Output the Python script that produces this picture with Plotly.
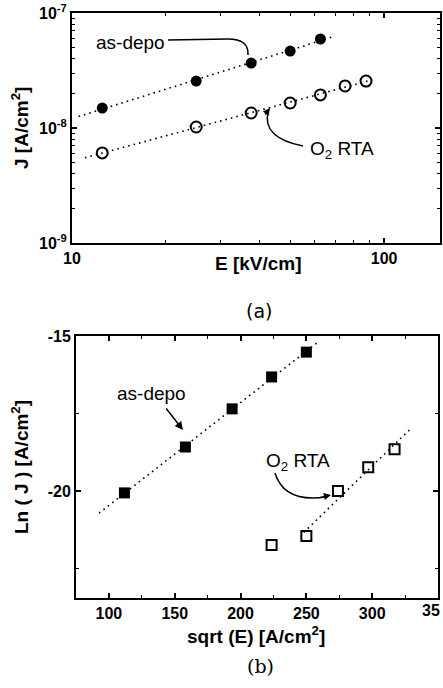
import numpy as np
import plotly.graph_objects as go
from plotly.subplots import make_subplots

# ---------------- data ----------------
# (a) J vs E (log-log)
E_asdepo = [12.5, 25, 37.5, 50, 62.5]
J_asdepo = [1.49e-8, 2.56e-8, 3.67e-8, 4.67e-8, 5.94e-8]
E_o2 = [12.5, 25, 37.5, 50, 62.5, 75, 87.5]
J_o2 = [6.07e-9, 1.02e-8, 1.35e-8, 1.65e-8, 1.94e-8, 2.32e-8, 2.56e-8]
fit_range_a_asdepo = [10.5, 68.7]
fit_range_a_o2 = [11.0, 90.0]

# (b) Ln(J) vs sqrt(E)
sq_asdepo = [111.8, 158.1, 193.6, 223.6, 250.0]
lnJ_asdepo = [-20.06, -18.58, -17.35, -16.32, -15.52]
sq_o2 = [223.6, 250.0, 274.0, 297.0, 317.0]
lnJ_o2 = [-21.74, -21.45, -20.0, -19.23, -18.65]
fit_range_b_asdepo = [92.5, 258.0]
fit_range_b_o2 = [248.0, 330.0]

top_ytickvals = [1e-9, 1e-8, 1e-7]
top_yticktext = ["10<sup>-9</sup>", "10<sup>-8</sup>", "10<sup>-7</sup>"]
top_xtickvals = [10, 100]
top_xticktext = ["10", "100"]
bot_xtickvals = [100, 150, 200, 250, 300, 350]
bot_xticktext = ["100", "150", "200", "250", "300", ""]
bot_edge_label = "35"   # the 350 label, cut at the image edge in the original
bot_ytickvals = [-20, -15]
bot_yticktext = ["-20", "-15"]

# ---------------- helpers ----------------
W, H = 443, 688
def PX(x):
    return x / W
def PY(y):
    return 1 - y / H

FONT = "Liberation Sans, Arial, sans-serif"
DOT = "1.6px,4px"

fig = make_subplots(rows=2, cols=1)

# fits
def loglog_fit(x, y, rng):
    lx, ly = np.log10(x), np.log10(y)
    k, b = np.polyfit(lx, ly, 1)
    xs = np.array(rng)
    return xs, 10 ** (k * np.log10(xs) + b)

def lin_fit(x, y, rng):
    k, b = np.polyfit(x, y, 1)
    xs = np.array(rng)
    return xs, k * xs + b

xa1, ya1 = loglog_fit(E_asdepo, J_asdepo, fit_range_a_asdepo)
xa2, ya2 = loglog_fit(E_o2, J_o2, fit_range_a_o2)
xb1, yb1 = lin_fit(sq_asdepo, lnJ_asdepo, fit_range_b_asdepo)
xb2, yb2 = lin_fit(sq_o2[1:], lnJ_o2[1:], fit_range_b_o2)

line_style = dict(color="black", width=1.6, dash=DOT)
fig.add_trace(go.Scatter(x=xa1, y=ya1, mode="lines", line=line_style, showlegend=False), 1, 1)
fig.add_trace(go.Scatter(x=xa2, y=ya2, mode="lines", line=line_style, showlegend=False), 1, 1)
fig.add_trace(go.Scatter(x=xb1, y=yb1, mode="lines", line=line_style, showlegend=False), 2, 1)
fig.add_trace(go.Scatter(x=xb2, y=yb2, mode="lines", line=line_style, showlegend=False), 2, 1)

fig.add_trace(go.Scatter(x=E_asdepo, y=J_asdepo, mode="markers",
                         marker=dict(symbol="circle", size=11, color="black"),
                         showlegend=False), 1, 1)
fig.add_trace(go.Scatter(x=E_o2, y=J_o2, mode="markers",
                         marker=dict(symbol="circle-open", size=11, color="black",
                                     line=dict(width=2, color="black")),
                         showlegend=False), 1, 1)
fig.add_trace(go.Scatter(x=sq_asdepo, y=lnJ_asdepo, mode="markers",
                         marker=dict(symbol="square", size=11, color="black"),
                         showlegend=False), 2, 1)
fig.add_trace(go.Scatter(x=sq_o2, y=lnJ_o2, mode="markers",
                         marker=dict(symbol="square-open", size=10, color="black",
                                     line=dict(width=2, color="black")),
                         showlegend=False), 2, 1)

tickfont = dict(family=FONT, size=16, color="black", weight="bold")
axis_common = dict(showline=True, linecolor="black", linewidth=2, mirror="ticks",
                   ticks="inside", ticklen=5, tickwidth=1.5, tickcolor="black",
                   showgrid=False, zeroline=False, tickfont=tickfont, automargin=False)

fig.update_xaxes(type="log", range=[1, np.log10(151)], domain=[PX(72), PX(440)],
                 tickvals=top_xtickvals, ticktext=top_xticktext,
                 minor=dict(tickvals=[20, 30, 40, 50, 60, 70, 80, 90], ticks="inside",
                            ticklen=3, tickwidth=1.2, tickcolor="black"),
                 **axis_common, row=1, col=1)
fig.update_yaxes(type="log", range=[-9, -7], domain=[PY(243), PY(13)],
                 tickvals=top_ytickvals, ticktext=top_yticktext,
                 minor=dict(tickvals=[k * 10.0 ** e for e in (-9, -8) for k in range(2, 10)],
                            ticks="inside", ticklen=3, tickwidth=1.2, tickcolor="black"),
                 **axis_common, row=1, col=1)
fig.update_xaxes(range=[75, 350], domain=[PX(76), PX(438)],
                 tickvals=bot_xtickvals, ticktext=bot_xticktext,
                 minor=dict(dtick=25, tick0=75, ticks="inside", ticklen=3, tickwidth=1.2,
                            tickcolor="black"),
                 **axis_common, row=2, col=1)
fig.update_yaxes(range=[-23.45, -15], domain=[PY(598), PY(336)],
                 tickvals=bot_ytickvals, ticktext=bot_yticktext,
                 minor=dict(dtick=2.5, tick0=-15, ticks="inside", ticklen=3, tickwidth=1.2,
                            tickcolor="black"),
                 **axis_common, row=2, col=1)

# ---------------- annotations ----------------
ann = []
def text(x, y, s, size=19, bold=False, angle=0, family=FONT, xanchor="center"):
    ann.append(dict(xref="paper", yref="paper", x=PX(x), y=PY(y), text=s,
                    showarrow=False, textangle=angle, xanchor=xanchor, yanchor="middle",
                    font=dict(family=family, size=size, color="black",
                              weight="bold" if bold else "normal")))

def arrow(x0, y0, x1, y1, width=1.5):
    ann.append(dict(xref="paper", yref="paper", x=PX(x1), y=PY(y1),
                    axref="pixel", ayref="pixel", ax=x0 - x1, ay=y0 - y1,
                    text="", showarrow=True, arrowhead=2, arrowsize=1.1,
                    arrowwidth=width, arrowcolor="black"))

text(130, 42, "as-depo")
text(342, 150, "O<sub>2</sub> RTA")
text(151, 393, "as-depo")
text(298, 462, "O<sub>2</sub> RTA")

text(258, 263, "E [kV/cm]", bold=True)
text(20, 128, "J [A/cm<sup>2</sup>]", bold=True, angle=-90)
text(256, 635, "sqrt (E) [A/cm<sup>2</sup>]", bold=True)
text(20, 467, "Ln ( J ) [A/cm<sup>2</sup>]", bold=True, angle=-90)

# clipped "350" tick label as it appears at the right edge
ann.append(dict(xref="paper", yref="paper", x=1.0, y=PY(610), text=bot_edge_label,
                showarrow=False, xanchor="right", yanchor="middle", xshift=-1,
                font=dict(family=FONT, size=16, color="black", weight="bold")))

text(259, 311, "(a)", size=19, family="DejaVu Sans, sans-serif")
text(260, 666, "(b)", size=19, family="DejaVu Serif, serif")

arrow(165, 407, 183, 430)
arrow(264, 116, 270, 108, width=1.3)
arrow(318, 498, 331, 495, width=1.3)

fig.update_layout(annotations=ann)

# curved leader lines (paper coordinates)
def path(pts_str):
    return dict(type="path", xref="paper", yref="paper", path=pts_str,
                line=dict(color="black", width=1.5))

def P(x, y):
    return f"{PX(x):.5f},{PY(y):.5f}"

shapes = [
    path(f"M {P(168, 40)} L {P(228, 39)} Q {P(249, 39)} {P(248, 55)}"),
    path(f"M {P(303, 146)} Q {P(262, 138)} {P(268, 112)}"),
    path(f"M {P(275, 473)} Q {P(284, 503)} {P(326, 497)}"),
]
fig.update_layout(shapes=shapes)

fig.update_layout(width=W, height=H, margin=dict(l=0, r=0, t=0, b=0),
                  paper_bgcolor="white", plot_bgcolor="white", showlegend=False)

fig.write_html("out.html")
